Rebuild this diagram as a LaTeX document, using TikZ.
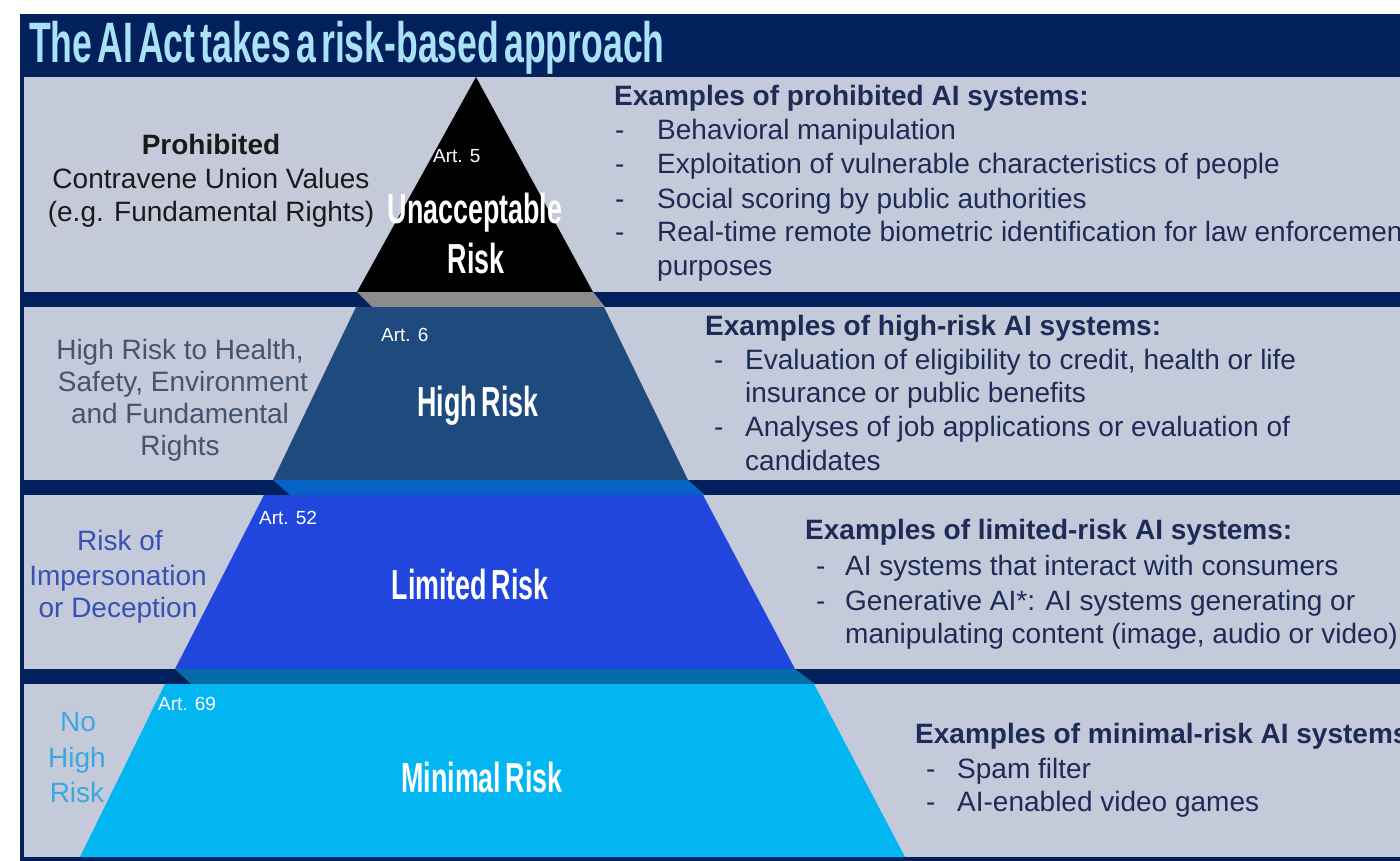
\documentclass[tikz,border=0pt]{standalone}
\usepackage{fontspec}
\setmainfont{Liberation Sans}
\newfontfamily\titlefont[FakeStretch=0.625,WordSpace=0.5]{Liberation Sans}
\newfontfamily\riskfont[FakeStretch=0.64,WordSpace=0.6]{Liberation Sans}
\definecolor{navy}{HTML}{02205C}
\definecolor{bandbg}{HTML}{C4CADA}
\definecolor{titlec}{HTML}{A9E2F6}
\definecolor{sepgray}{HTML}{8C8C8C}
\definecolor{tierB}{HTML}{1E4A7E}
\definecolor{sepB}{HTML}{0762C4}
\definecolor{tierC}{HTML}{2146DE}
\definecolor{sepC}{HTML}{066BA8}
\definecolor{tierD}{HTML}{02B6F1}
\definecolor{bodyc}{HTML}{1D2B57}
\definecolor{leftA}{HTML}{1A1A1A}
\definecolor{leftB}{HTML}{44546F}
\definecolor{leftC}{HTML}{3552B4}
\definecolor{leftD}{HTML}{3FA7DF}
\tikzset{
  body/.style={anchor=base west, inner sep=0pt, text=bodyc, font=\fontsize{28}{34}\selectfont},
  head/.style={body, font=\fontsize{28}{34}\selectfont\bfseries},
  leftlab/.style={anchor=base, inner sep=0pt, font=\fontsize{28}{34}\selectfont},
  risklab/.style={anchor=base, inner sep=0pt, text=white, font=\riskfont\bfseries\fontsize{42}{44}\selectfont},
  artlab/.style={anchor=base west, inner sep=0pt, text=white, font=\fontsize{19}{22}\selectfont},
}
\begin{document}
\begin{tikzpicture}[x=1pt,y=-1pt]
\useasboundingbox (0,0) rectangle (1400,861);
\clip (0,0) rectangle (1400,861);
\fill[white] (0,0) rectangle (1400,861);
\fill[navy] (20,14) rectangle (1400,861);
% title
\node[anchor=base west, inner sep=0pt, text=titlec, font=\titlefont\bfseries\fontsize{57}{60}\selectfont] (title) at (29,63) {The AI Act takes a risk-based approach};
% bands
\fill[bandbg] (24,77) rectangle (1400,292);
\fill[bandbg] (24,307) rectangle (1400,480);
\fill[bandbg] (24,495) rectangle (1400,669);
\fill[bandbg] (24,684) rectangle (1400,857);
% pyramid
\fill[black] (476,77) -- (357,292) -- (593,292) -- cycle;
\fill[sepgray] (357,292) -- (593,292) -- (605,307) -- (372,307) -- cycle;
\fill[tierB] (356,307) -- (604,307) -- (688,480) -- (273,480) -- cycle;
\fill[sepB] (273,480) -- (688,480) -- (705,495) -- (290,495) -- cycle;
\fill[tierC] (264,495) -- (703,495) -- (795,669) -- (175,669) -- cycle;
\fill[sepC] (175,669) -- (795,669) -- (815,684) -- (191,684) -- cycle;
\fill[tierD] (165,684) -- (814,684) -- (905,857) -- (80,857) -- cycle;
% pyramid labels
\node[artlab] (art5) at (433,163) {Art. 5};
\node[risklab] (unacc) at (475,223) {Unacceptable};
\node[risklab] (unrisk) at (476,273) {Risk};
\node[artlab] (art6) at (381,341) {Art. 6};
\node[risklab] (high) at (478,416) {High Risk};
\node[artlab] (art52) at (259,524) {Art. 52};
\node[risklab] (limited) at (470,599) {Limited Risk};
\node[artlab] (art69) at (158,710) {Art. 69};
\node[risklab] (minimal) at (482,792) {Minimal Risk};
% left labels
\node[leftlab, text=leftA, font=\fontsize{28}{34}\selectfont\bfseries] (l1a) at (211,155) {Prohibited};
\node[leftlab, text=leftA] (l1b) at (211,189) {Contravene Union Values};
\node[leftlab, text=leftA] (l1c) at (211,222) {(e.g. Fundamental Rights)};
\node[leftlab, text=leftB] (l2a) at (180,359) {High Risk to Health,};
\node[leftlab, text=leftB] (l2b) at (183,391) {Safety, Environment};
\node[leftlab, text=leftB] (l2c) at (180,423) {and Fundamental};
\node[leftlab, text=leftB] (l2d) at (180,455) {Rights};
\node[leftlab, text=leftC] (l3a) at (120,550) {Risk of};
\node[leftlab, text=leftC] (l3b) at (118,585) {Impersonation};
\node[leftlab, text=leftC] (l3c) at (118,617) {or Deception};
\node[leftlab, text=leftD] (l4a) at (78,731) {No};
\node[leftlab, text=leftD] (l4b) at (77,767) {High};
\node[leftlab, text=leftD] (l4c) at (77,802) {Risk};
% right texts band 1
\node[head] (h1) at (614,106) {Examples of prohibited AI systems:};
\node[body] (d1a) at (615,140) {-};
\node[body] (t1a) at (657,140) {Behavioral manipulation};
\node[body] (d1b) at (615,174) {-};
\node[body] (t1b) at (657,174) {Exploitation of vulnerable characteristics of people};
\node[body] (d1c) at (615,208) {-};
\node[body] (t1c) at (657,208) {Social scoring by public authorities};
\node[body] (d1d) at (615,241) {-};
\node[body] (t1d) at (657,241) {Real-time remote biometric identification for law enforcement};
\node[body] (t1e) at (657,275) {purposes};
% band 2
\node[head] (h2) at (705,335) {Examples of high-risk AI systems:};
\node[body] (d2a) at (714,369) {-};
\node[body] (t2a) at (745,369) {Evaluation of eligibility to credit, health or life};
\node[body] (t2b) at (745,402) {insurance or public benefits};
\node[body] (d2b) at (714,436) {-};
\node[body] (t2c) at (745,436) {Analyses of job applications or evaluation of};
\node[body] (t2d) at (745,470) {candidates};
% band 3
\node[head] (h3) at (805,539) {Examples of limited-risk AI systems:};
\node[body] (d3a) at (816,575) {-};
\node[body] (t3a) at (845,575) {AI systems that interact with consumers};
\node[body] (d3b) at (816,610) {-};
\node[body] (t3b) at (845,610) {Generative AI*: AI systems generating or};
\node[body] (t3c) at (845,643) {manipulating content (image, audio or video)};
% band 4
\node[head] (h4) at (915,743) {Examples of minimal-risk AI systems:};
\node[body] (d4a) at (926,778) {-};
\node[body] (t4a) at (957,778) {Spam filter};
\node[body] (d4b) at (926,811) {-};
\node[body] (t4b) at (957,811) {AI-enabled video games};
\end{tikzpicture}
\end{document}
